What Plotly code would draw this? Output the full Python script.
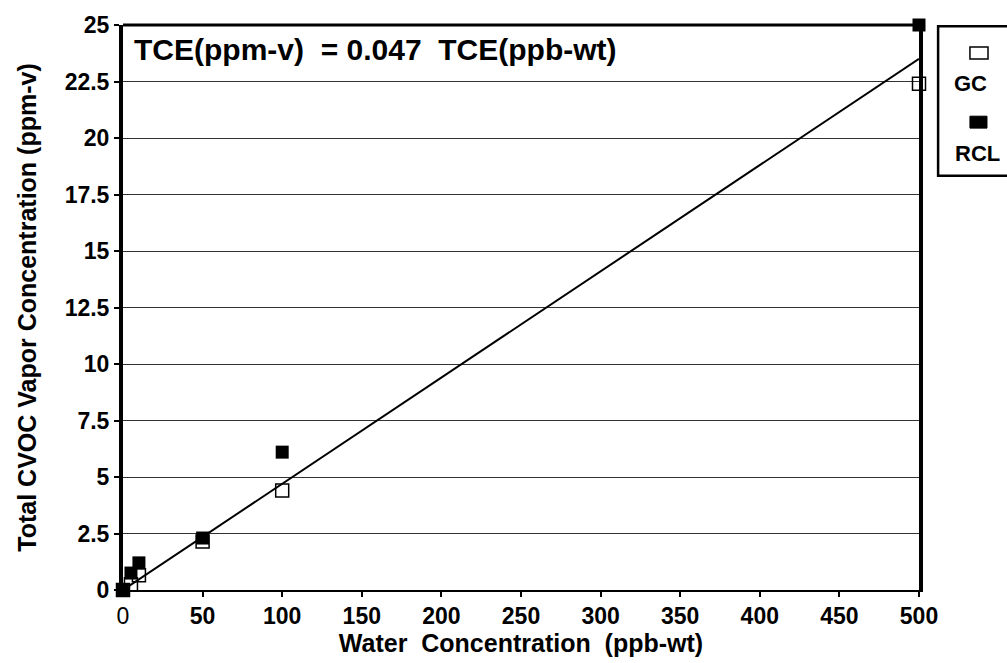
import plotly.graph_objects as go

conc = [0, 5, 10, 50, 100, 500]
gc_vals = [0, 0.25, 0.65, 2.15, 4.4, 22.4]
rcl_vals = [0, 0.75, 1.2, 2.3, 6.1, 25]
slope = 0.047
fit_x = [0, 500]
fit_y = [slope * v for v in fit_x]

x_ticks = [0, 50, 100, 150, 200, 250, 300, 350, 400, 450, 500]
x_ticktext = ["0", "<b>50</b>", "<b>100</b>", "<b>150</b>", "<b>200</b>", "<b>250</b>",
              "<b>300</b>", "<b>350</b>", "<b>400</b>", "<b>450</b>", "<b>500</b>"]
y_ticks = [0, 2.5, 5, 7.5, 10, 12.5, 15, 17.5, 20, 22.5, 25]
y_ticktext = ["0", "2.5", "5", "7.5", "10", "12.5", "15", "17.5", "20", "22.5", "25"]

font = "Liberation Sans, Arial, sans-serif"

fig = go.Figure()
fig.add_trace(go.Scatter(x=fit_x, y=fit_y, mode="lines",
                         line=dict(color="black", width=2), showlegend=False,
                         cliponaxis=False))
fig.add_trace(go.Scatter(x=conc, y=gc_vals, mode="markers", name="GC",
                         marker=dict(symbol="square-open", size=13, color="black",
                                     line=dict(width=1.5)),
                         showlegend=False, cliponaxis=False))
fig.add_trace(go.Scatter(x=conc, y=rcl_vals, mode="markers", name="RCL",
                         marker=dict(symbol="square", size=13, color="black"),
                         showlegend=False, cliponaxis=False))

fig.update_layout(
    width=1007, height=663,
    margin=dict(l=123, r=88, t=21, b=72),
    paper_bgcolor="white", plot_bgcolor="white",
    font=dict(family=font, color="black"),
    xaxis=dict(range=[0, 500], tickvals=x_ticks, ticktext=x_ticktext,
               tickfont=dict(size=23), showgrid=False, zeroline=False,
               showline=True, linecolor="black", linewidth=1.5,
               ticks="outside", ticklen=5, tickwidth=2, tickcolor="black",
               title=dict(text="Water  Concentration  (ppb-wt)",
                          font=dict(size=25, weight="bold"), standoff=4)),
    yaxis=dict(range=[0, 25], tickvals=y_ticks, ticktext=y_ticktext,
               tickfont=dict(size=23, weight="bold"), showgrid=True, gridcolor="#333",
               gridwidth=1, zeroline=False,
               showline=True, linecolor="black", linewidth=4, mirror=True,
               ticks="outside", ticklen=5, tickwidth=2, tickcolor="black",
               title=dict(text="Total CVOC Vapor Concentration (ppm-v)",
                          font=dict(size=25, weight="bold"), standoff=22)),
)

# top border
fig.add_shape(type="line", xref="paper", yref="paper", x0=0, x1=1, y0=1, y1=1,
              line=dict(color="black", width=3))

fig.add_annotation(text="TCE(ppm-v)  = 0.047  TCE(ppb-wt)",
                   xref="paper", yref="paper", x=0.011, y=0.99,
                   xanchor="left", yanchor="top", showarrow=False,
                   font=dict(size=30, family=font, weight="bold"))

# legend box
fig.add_shape(type="rect", xref="paper", yref="paper",
              x0=1.024, x1=1.115, y0=0.733, y1=0.998,
              line=dict(color="black", width=2.5), fillcolor="white")
fig.add_shape(type="rect", xref="paper", yref="paper",
              x0=1.064, x1=1.0867, y0=0.940, y1=0.961,
              line=dict(color="black", width=1.5), fillcolor="white")
fig.add_annotation(text="GC", xref="paper", yref="paper", x=1.065, y=0.8965,
                   xanchor="center", yanchor="middle",
                   showarrow=False, font=dict(size=22, family=font, weight="bold"))
fig.add_shape(type="rect", xref="paper", yref="paper",
              x0=1.064, x1=1.0854, y0=0.8175, y1=0.8386,
              line=dict(color="black", width=1), fillcolor="black")
fig.add_annotation(text="RCL", xref="paper", yref="paper", x=1.0729, y=0.772,
                   xanchor="center", yanchor="middle",
                   showarrow=False, font=dict(size=22, family=font, weight="bold"))

fig.write_html("out.html")
